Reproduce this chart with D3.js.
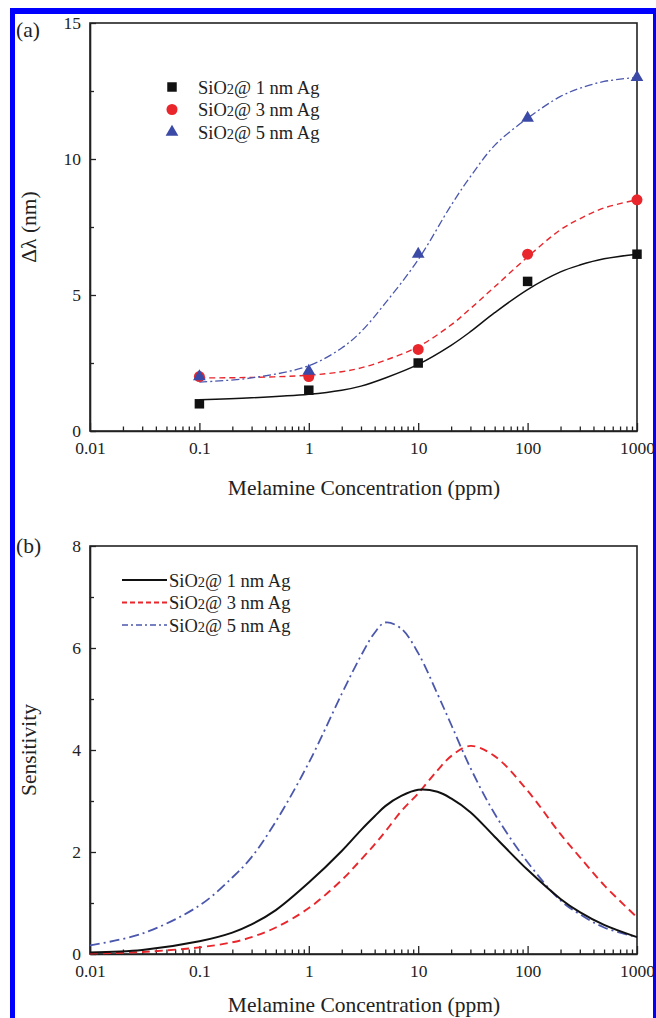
<!DOCTYPE html>
<html><head><meta charset="utf-8">
<script src="https://cdn.jsdelivr.net/npm/d3@7"></script>
<style>
body{margin:0;background:#fff}
svg{display:block}
text{font-family:"Liberation Serif","Times New Roman",serif;fill:#222}
</style>
</head><body>
<svg id="c" width="656" height="1018"></svg>
<script>
// ---------- data ----------
const seriesNames = ["1 nm Ag", "3 nm Ag", "5 nm Ag"];
const concentrations = [0.1, 1, 10, 100, 1000];
const shiftAg1 = [1.0, 1.5, 2.5, 5.5, 6.5];
const shiftAg3 = [2.0, 2.0, 3.0, 6.5, 8.5];
const shiftAg5 = [2.0, 2.2, 6.5, 11.5, 13.0];

const fitX   = [0.1, 0.3, 1, 2, 3, 5, 10, 20, 30, 50, 100, 200, 300, 500, 1000];
const fitAg1 = [1.15, 1.22, 1.35, 1.5, 1.65, 1.95, 2.45, 3.15, 3.65, 4.35, 5.2, 5.85, 6.1, 6.33, 6.5];
const fitAg3 = [1.95, 1.97, 2.05, 2.18, 2.32, 2.6, 3.1, 3.9, 4.5, 5.3, 6.4, 7.4, 7.8, 8.2, 8.5];
const fitAg5 = [1.8, 1.95, 2.4, 3.05, 3.65, 4.7, 6.3, 8.3, 9.35, 10.5, 11.5, 12.3, 12.6, 12.85, 13.0];

const sensX   = [0.01, 0.03, 0.1, 0.2, 0.3, 0.5, 1, 2, 3, 4, 5, 7, 10, 15, 20, 30, 50, 100, 200, 300, 500, 1000];
const sensAg1 = [0.03, 0.08, 0.25, 0.42, 0.58, 0.86, 1.4, 2.02, 2.43, 2.7, 2.9, 3.1, 3.22, 3.18, 3.05, 2.78, 2.3, 1.65, 1.08, 0.82, 0.57, 0.33];
const sensAg3 = [0.01, 0.04, 0.13, 0.23, 0.33, 0.52, 0.9, 1.45, 1.85, 2.15, 2.4, 2.8, 3.15, 3.6, 3.88, 4.08, 3.88, 3.2, 2.35, 1.9, 1.35, 0.72];
const sensAg5 = [0.17, 0.4, 0.95, 1.5, 1.9, 2.6, 3.75, 5.1, 5.85, 6.3, 6.5, 6.38, 5.9, 5.1, 4.5, 3.65, 2.75, 1.8, 1.05, 0.78, 0.52, 0.33];

const xMajor = [0.01, 0.1, 1, 10, 100, 1000];
const xMajorLabels = ["0.01", "0.1", "1", "10", "100", "1000"];
const yMajorA = [0, 5, 10, 15];
const yMinorA = [2.5, 7.5, 12.5];
const yMajorB = [0, 2, 4, 6, 8];
const yMinorB = [1, 3, 5, 7];

// ---------- drawing ----------
const svg = d3.select("#c");
const X0 = 90, X1 = 637;
const ink = "#222";
const colBlack = "#111", colRed = "#e8262b", colBlue = "#3b4aa6", colBlueLine = "#4b57ad";

function panel(top, bottom, yMax, yMaj, yMin) {
  const x = d3.scaleLog().domain([0.01, 1000]).range([X0, X1]);
  const y = d3.scaleLinear().domain([0, yMax]).range([bottom, top]);
  const g = svg.append("g");
  const minors = x.ticks().filter(v => Math.abs(Math.log10(v) - Math.round(Math.log10(v))) > 1e-6);
  g.append("g").attr("transform", `translate(0,${bottom})`)
    .call(d3.axisBottom(x).tickValues(xMajor).tickSize(-8).tickPadding(11).tickSizeOuter(0)
      .tickFormat((d, i) => xMajorLabels[i]));
  g.append("g").attr("transform", `translate(0,${bottom})`)
    .call(d3.axisBottom(x).tickValues(minors).tickSize(-4.5).tickFormat("").tickSizeOuter(0))
    .select(".domain").remove();
  g.append("g").attr("transform", `translate(${X0},0)`)
    .call(d3.axisLeft(y).tickValues(yMaj).tickSize(-6).tickPadding(9).tickSizeOuter(0).tickFormat(d3.format("d")));
  g.append("g").attr("transform", `translate(${X0},0)`)
    .call(d3.axisLeft(y).tickValues(yMin).tickSize(-4).tickFormat("").tickSizeOuter(0))
    .select(".domain").remove();
  g.selectAll(".tick line").attr("stroke", ink).attr("stroke-width", 1.3);
  g.selectAll(".domain").attr("stroke", ink).attr("stroke-width", 1.6);
  g.selectAll(".tick text").attr("font-family", "Liberation Serif").attr("font-size", 17.5).attr("fill", ink);
  g.append("rect").attr("x", X0).attr("y", top).attr("width", X1 - X0).attr("height", bottom - top)
    .attr("fill", "none").attr("stroke", ink).attr("stroke-width", 1.6);
  return {x, y, g};
}

function siLabel(sel, name) {
  sel.append("tspan").text("SiO");
  sel.append("tspan").attr("font-size", "78%").text("2");
  sel.append("tspan").text("@ " + name);
}

// ---------- panel (a) ----------
const A = panel(23, 431, 15, yMajorA, yMinorA);
const lineA = d3.line().x((d, i) => A.x(fitX[i])).y(d => A.y(d)).curve(d3.curveCatmullRom.alpha(0.5));
A.g.append("path").attr("d", lineA(fitAg1)).attr("fill", "none").attr("stroke", colBlack).attr("stroke-width", 1.5);
A.g.append("path").attr("d", lineA(fitAg3)).attr("fill", "none").attr("stroke", colRed).attr("stroke-width", 1.4).attr("stroke-dasharray", "6,4");
A.g.append("path").attr("d", lineA(fitAg5)).attr("fill", "none").attr("stroke", colBlueLine).attr("stroke-width", 1.3).attr("stroke-dasharray", "8,3,2,3");

const sq = d3.symbol().type(d3.symbolSquare).size(90);
const ci = d3.symbol().type(d3.symbolCircle).size(95);
const tr = d3.symbol().type(d3.symbolTriangle).size(70);
A.g.selectAll(".p1").data(shiftAg1).join("path").attr("d", sq)
  .attr("transform", (d, i) => `translate(${A.x(concentrations[i])},${A.y(d)})`).attr("fill", colBlack);
A.g.selectAll(".p3").data(shiftAg3).join("path").attr("d", ci)
  .attr("transform", (d, i) => `translate(${A.x(concentrations[i])},${A.y(d)})`).attr("fill", colRed);
A.g.selectAll(".p5").data(shiftAg5).join("path").attr("d", tr)
  .attr("transform", (d, i) => `translate(${A.x(concentrations[i])},${A.y(d)})`).attr("fill", colBlue);

const legA = [[sq, colBlack], [ci, colRed], [tr, colBlue]];
legA.forEach((m, i) => {
  const yy = 87 + i * 22.5;
  A.g.append("path").attr("d", m[0]).attr("fill", m[1]).attr("transform", `translate(172,${yy})`);
  siLabel(A.g.append("text").attr("x", 198).attr("y", yy + 6.5).attr("font-size", 18.5), seriesNames[i]);
});

// ---------- panel (b) ----------
const B = panel(546, 954, 8, yMajorB, yMinorB);
const lineB = d3.line().x((d, i) => B.x(sensX[i])).y(d => B.y(d)).curve(d3.curveCatmullRom.alpha(0.5));
B.g.append("path").attr("d", lineB(sensAg5)).attr("fill", "none").attr("stroke", colBlueLine).attr("stroke-width", 1.8).attr("stroke-dasharray", "10,4,2,4");
B.g.append("path").attr("d", lineB(sensAg3)).attr("fill", "none").attr("stroke", colRed).attr("stroke-width", 1.9).attr("stroke-dasharray", "8,5");
B.g.append("path").attr("d", lineB(sensAg1)).attr("fill", "none").attr("stroke", colBlack).attr("stroke-width", 2);

const legB = [[colBlack, null, 2], [colRed, "5,3", 1.8], [colBlueLine, "6,3,2,3", 1.6]];
legB.forEach((m, i) => {
  const yy = 580 + i * 22.5;
  B.g.append("line").attr("x1", 122).attr("x2", 167).attr("y1", yy).attr("y2", yy)
    .attr("stroke", m[0]).attr("stroke-width", m[2]).attr("stroke-dasharray", m[1]);
  siLabel(B.g.append("text").attr("x", 169).attr("y", yy + 6.5).attr("font-size", 18.5), seriesNames[i]);
});

// ---------- titles ----------
svg.append("text").attr("x", 16).attr("y", 37).attr("font-size", 21.5).text("(a)");
svg.append("text").attr("x", 16).attr("y", 553).attr("font-size", 21.5).text("(b)");
svg.append("text").attr("x", 364).attr("y", 495).attr("text-anchor", "middle").attr("font-size", 21.5).text("Melamine Concentration (ppm)");
svg.append("text").attr("x", 364).attr("y", 1012).attr("text-anchor", "middle").attr("font-size", 21.5).text("Melamine Concentration (ppm)");
svg.append("text").attr("transform", "translate(36,227) rotate(-90)").attr("text-anchor", "middle").attr("font-size", 21.5).text("Δλ (nm)");
svg.append("text").attr("transform", "translate(36,750) rotate(-90)").attr("text-anchor", "middle").attr("font-size", 21.5).text("Sensitivity");

// ---------- blue frame ----------
svg.append("rect").attr("x", 10).attr("y", 8).attr("width", 5).attr("height", 1010).attr("fill", "#0000ff");
svg.append("rect").attr("x", 10).attr("y", 8).attr("width", 646).attr("height", 6).attr("fill", "#0000ff");
svg.append("rect").attr("x", 653).attr("y", 8).attr("width", 3).attr("height", 1010).attr("fill", "#0000ff");
</script>
</body></html>
